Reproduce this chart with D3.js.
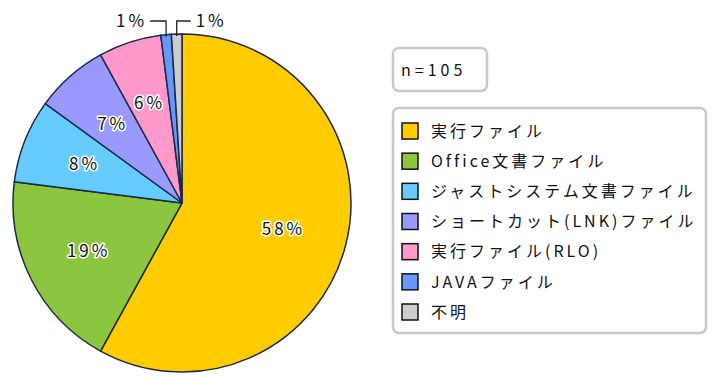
<!DOCTYPE html>
<html lang='ja'>
<head>
  <meta charset='UTF-8'>
  <title>ファイル種別</title>
  <style>
  body {
    margin: 0;
    background: #fff;
  }
  text {
    font-family: 'Noto Sans CJK JP', sans-serif;
    fill: #111;
  }
  .slice {
    stroke: #1c2a44;
    stroke-width: 1.5;
  }
  .pct {
    font-size: 17px;
    letter-spacing: 3px;
    paint-order: stroke;
    stroke: #fff;
    stroke-width: 3px;
    stroke-linejoin: round;
  }
  .leader {
    fill: none;
    stroke: #222;
    stroke-width: 1.3;
  }
  .box {
    fill: #fff;
    stroke: #c8c8c8;
    stroke-width: 2.5;
  }
  .key {
    stroke: #111;
    stroke-width: 1.5;
  }
  .item {
    font-size: 16px;
    letter-spacing: 3px;
  }
  </style>
  <script src='https://d3js.org/d3.v7.min.js'></script>
</head>
<body>
  <script>

  var categories = ['実行ファイル', 'Office文書ファイル', 'ジャストシステム文書ファイル',
    'ショートカット(LNK)ファイル', '実行ファイル(RLO)', 'JAVAファイル', '不明'];
  var shares = [58, 19, 8, 7, 6, 1, 1];
  var colors = ['#ffcc00', '#8cc63f', '#66ccff', '#9999ff', '#ff99cc', '#6699ff', '#cccccc'];
  var total = 'n=105';

  var width = 712, height = 376;
  var cx = 182, cy = 203, r = 169;

  var svg = d3.select('body').append('svg')
    .attr('width', width)
    .attr('height', height);

  var pie = d3.pie().sort(null).value(function (d) { return d; });
  var arcs = pie(shares);
  var arc = d3.arc().innerRadius(0).outerRadius(r);
  var labelArc = d3.arc().innerRadius(r * 0.62).outerRadius(r * 0.62);

  var g = svg.append('g').attr('transform', 'translate(' + cx + ',' + cy + ')');

  // slices

  g.selectAll('.slice')
    .data(arcs)
    .enter()
    .append('path')
    .attr('class', 'slice')
    .attr('fill', function (d, i) { return colors[i]; })
    .attr('d', arc);

  // labels inside the big slices, leaders for the thin ones

  arcs.forEach(function (d, i) {
    var txt = shares[i] + '%';
    if (shares[i] >= 3) {
      var c = labelArc.centroid(d);
      g.append('text')
        .attr('class', 'pct')
        .attr('x', c[0])
        .attr('y', c[1])
        .attr('dy', '0.35em')
        .attr('text-anchor', 'middle')
        .text(txt);
    } else {
      var mid = (d.startAngle + d.endAngle) / 2;
      var px = Math.sin(mid) * r;
      var py = -Math.cos(mid) * r;
      var ly = -r - 13;
      var left = i === arcs.length - 2;
      var hx = left ? px - 16 : px + 14;
      g.append('path')
        .attr('class', 'leader')
        .attr('d', 'M' + px + ',' + (py + 2) + 'V' + ly + 'H' + hx);
      g.append('text')
        .attr('class', 'pct')
        .attr('x', left ? hx - 3 : hx + 5)
        .attr('y', ly)
        .attr('dy', '0.35em')
        .attr('text-anchor', left ? 'end' : 'start')
        .text(txt);
    }
  });

  // n box

  svg.append('rect')
    .attr('class', 'box')
    .attr('x', 393).attr('y', 48)
    .attr('width', 94).attr('height', 43)
    .attr('rx', 6);

  svg.append('text')
    .attr('class', 'item')
    .attr('x', 401)
    .attr('y', 70)
    .attr('dy', '0.35em')
    .style('letter-spacing', '4px')
    .text(total);

  // legend

  svg.append('rect')
    .attr('class', 'box')
    .attr('x', 393).attr('y', 108)
    .attr('width', 313).attr('height', 225)
    .attr('rx', 6);

  var y = d3.scalePoint().domain(categories).range([131, 312]);

  var items = svg.selectAll('.legend')
    .data(categories)
    .enter()
    .append('g')
    .attr('transform', function (d) { return 'translate(402,' + y(d) + ')'; });

  items.append('rect')
    .attr('class', 'key')
    .attr('x', 0).attr('y', -8)
    .attr('width', 16).attr('height', 16)
    .attr('fill', function (d, i) { return colors[i]; });

  items.append('text')
    .attr('class', 'item')
    .attr('x', 29)
    .attr('dy', '0.36em')
    .text(function (d) { return d; });
  </script>
</body>
</html>
